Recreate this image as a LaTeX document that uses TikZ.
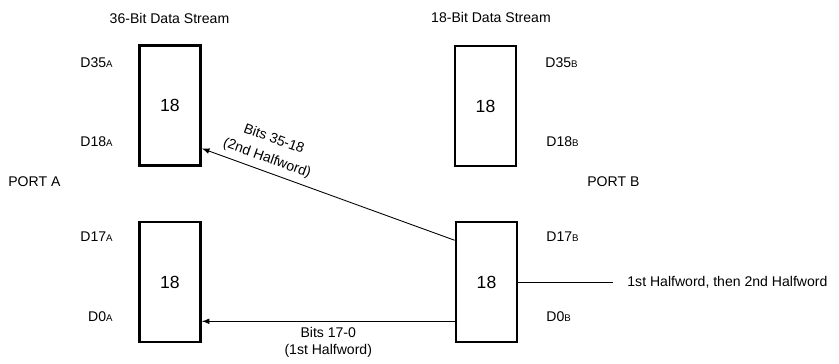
\documentclass[tikz,border=0pt]{standalone}
\usepackage{fontspec}
\setmainfont{Liberation Sans}
\usetikzlibrary{arrows, positioning, calc}

\newcommand{\portsub}[1]{{\fontsize{5.5}{6}\selectfont #1}}

\begin{document}
\begin{tikzpicture}[
    x=0.02cm, y=-0.02cm,
    font=\fontsize{8}{9.5}\selectfont,
    reg/.style={rectangle, draw, line width=1.6pt, minimum width=1.22cm, minimum height=2.4cm, font=\fontsize{10}{10}\selectfont},
    lbl/.style={inner sep=0pt},
    flow/.style={line width=0.5pt}
]
\useasboundingbox (0,0) rectangle (839,363);

% registers
\node[reg] (topA) at (170,105.5) {18};
\node[reg] (botA) at (170,282) {18};
\node[reg, line width=0.8pt] (topB) at (485.5,106) {18};
\node[reg] (botB) at (486.5,282) {18};

\node[lbl] (titleA) at (169.5,18) {36-Bit Data Stream};
\node[lbl] (titleB) at (491,17) {18-Bit Data Stream};

% port A side
\node[lbl, anchor=east] (d35a) at (113,63) {D35\portsub{A}};
\node[lbl, anchor=east] (d18a) at (113,142) {D18\portsub{A}};
\node[lbl, anchor=east] (d17a) at (113,237) {D17\portsub{A}};
\node[lbl, anchor=east] (d0a) at (113,317) {D0\portsub{A}};
\node[lbl, anchor=west] (portA) at (8,182) {PORT A};

% port B side
\node[lbl, anchor=west] (d35b) at (545,63) {D35\portsub{B}};
\node[lbl, anchor=west] (d18b) at (546,142) {D18\portsub{B}};
\node[lbl, anchor=west] (d17b) at (546,237) {D17\portsub{B}};
\node[lbl, anchor=west] (d0b) at (546,317) {D0\portsub{B}};
\node[lbl, anchor=west] (portB) at (587,182) {PORT B};

% transfers
\coordinate (hiA) at ($(topA.north east)!0.85!(topA.south east)$);
\coordinate (hiB) at ($(botB.north west)!0.16!(botB.south west)$);
\coordinate (loB) at ($(botB.north west)!0.82!(botB.south west)$);
\coordinate (loA) at (botA.east |- loB);

\draw[flow, latex-] (hiA) -- node[sloped, above, pos=0.24, align=center, font=\fontsize{8}{11.5}\selectfont] {Bits 35-18\\(2nd Halfword)} (hiB);
\draw[flow, latex-] (loA) -- node[below, align=center] {Bits 17-0\\(1st Halfword)} (loB);

\node[anchor=west, inner xsep=8pt] (out) at (613,282) {1st Halfword, then 2nd Halfword};
\draw[flow] (botB.east) -- (out.west);

\end{tikzpicture}
\end{document}
